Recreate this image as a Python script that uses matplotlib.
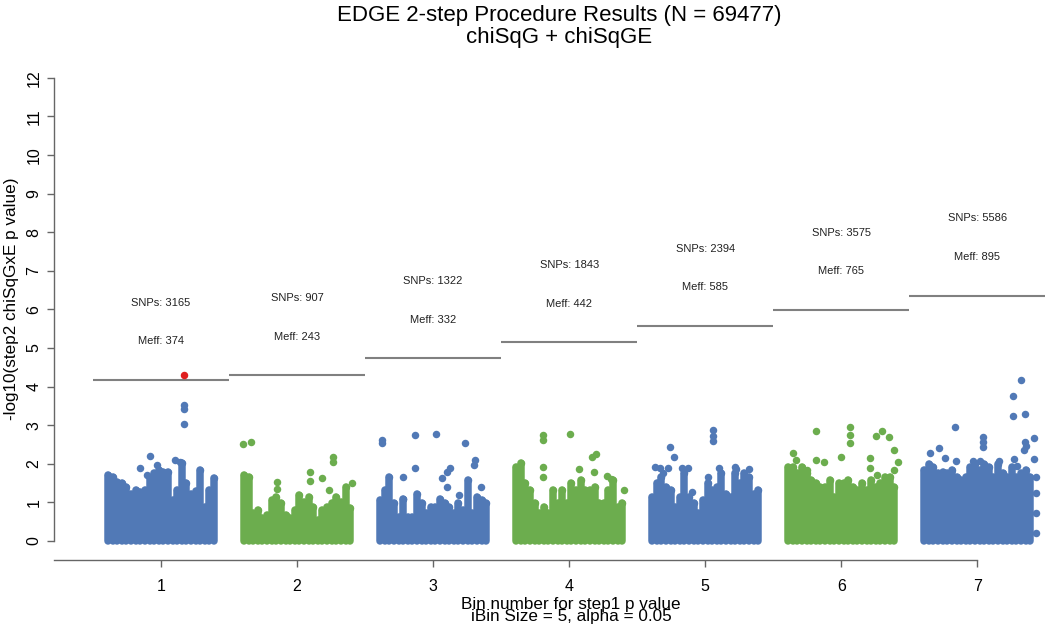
import numpy as np
import matplotlib
matplotlib.use("Agg")
import matplotlib.pyplot as plt

plt.rcParams['font.family'] = ['Liberation Sans', 'DejaVu Sans']

# ---------------- data ----------------
bins = [1, 2, 3, 4, 5, 6, 7]
snps = [3165, 907, 1322, 1843, 2394, 3575, 5586]
meff = [374, 243, 332, 442, 585, 765, 895]
thresholds = [4.18, 4.29, 4.73, 5.15, 5.57, 5.99, 6.36]
bin_colors = ["blue", "green", "blue", "green", "blue", "green", "blue"]

# envelope (top of the dense point cloud) across each bin, left to right
top1 = [1.71, 1.67, 1.54, 1.50, 1.41, 1.23, 1.32, 1.28, 1.32, 1.62, 1.75, 1.84,
        1.80, 1.80, 1.06, 1.32, 2.01, 1.49, 1.23, 1.30, 1.84, 0.89, 1.32, 1.62]
top2 = [1.71, 1.67, 0.72, 0.80, 0.59, 0.67, 1.06, 1.15, 0.98, 0.67, 0.59, 0.80,
        1.19, 1.02, 1.15, 0.89, 0.55, 0.80, 0.89, 0.98, 1.15, 1.02, 1.41, 0.85]
top3 = [1.06, 1.32, 1.67, 0.98, 0.63, 1.10, 0.63, 0.63, 1.23, 0.98, 0.72, 0.89,
        0.89, 1.10, 0.98, 0.89, 0.72, 0.98, 0.80, 1.58, 0.72, 1.15, 1.06, 0.98]
top4 = [1.93, 2.02, 1.49, 1.32, 0.98, 0.72, 0.89, 0.72, 1.32, 0.98, 1.32, 0.98,
        1.49, 1.32, 1.58, 1.32, 1.32, 1.41, 0.98, 0.98, 1.32, 1.58, 0.89, 0.98]
top5 = [1.15, 1.49, 1.67, 1.41, 1.32, 0.89, 1.15, 1.75, 1.15, 0.98, 0.72, 1.06,
        1.49, 1.32, 1.41, 1.75, 1.23, 1.15, 1.75, 1.49, 1.75, 1.67, 1.23, 1.32]
top6 = [1.93, 1.93, 1.75, 1.93, 1.75, 1.58, 1.49, 1.41, 1.41, 1.58, 1.15, 1.49,
        1.49, 1.58, 1.41, 1.32, 1.49, 1.32, 1.58, 1.41, 1.49, 1.67, 1.67, 1.41]
top7 = [1.84, 2.00, 1.93, 1.75, 1.80, 1.75, 1.84, 1.67, 1.58, 1.67, 1.93, 2.00,
        1.84, 2.00, 1.93, 1.67, 2.00, 1.75, 1.67, 1.93, 1.67, 1.75, 1.84, 1.67]
tops = [top1, top2, top3, top4, top5, top6, top7]

# individual points standing out above the cloud: (offset within bin, -log10 p)
out1_off = [-0.154, -0.105, -0.081, -0.032, -0.007, 0.103, 0.140, 0.170, 0.170, 0.170]
out1_val = [1.88, 1.71, 2.19, 1.97, 1.80, 2.10, 2.05, 3.53, 3.42, 3.02]
out2_off = [-0.400, -0.340, 0.265, 0.265, 0.096, 0.096, 0.180, 0.235, 0.400, -0.150, -0.150]
out2_val = [2.51, 2.56, 2.18, 2.05, 1.79, 1.56, 1.63, 1.32, 1.50, 1.53, 1.35]
out3_off = [-0.377, -0.377, -0.132, 0.022, 0.235, 0.309, 0.297, 0.125, 0.100, -0.130,
            -0.220, 0.064, -0.220, 0.103, 0.190, 0.350]
out3_val = [2.62, 2.53, 2.75, 2.77, 2.53, 2.10, 1.97, 1.88, 1.80, 1.88,
            1.67, 1.62, 1.10, 1.41, 1.19, 1.41]
out4_off = [-0.194, -0.194, 0.003, 0.200, 0.170, -0.190, -0.190, 0.070, 0.180, 0.280, 0.310, 0.400]
out4_val = [2.75, 2.62, 2.77, 2.25, 2.18, 1.93, 1.67, 1.86, 1.80, 1.68, 1.60, 1.32]
out5_off = [0.057, 0.057, 0.057, -0.262, -0.226, -0.370, -0.330, -0.270, -0.310, -0.170,
            -0.130, 0.020, 0.100, 0.220, 0.230, 0.320, -0.100]
out5_val = [2.88, 2.72, 2.59, 2.44, 2.17, 1.93, 1.88, 1.88, 1.75, 1.88,
            1.88, 1.65, 1.88, 1.93, 1.86, 1.86, 1.28]
out6_off = [-0.184, 0.061, 0.061, 0.061, 0.257, 0.300, 0.350, 0.385, -0.355, -0.330,
            -0.186, -0.125, 0.000, 0.210, 0.210, 0.420, -0.250, 0.260, 0.390]
out6_val = [2.86, 2.96, 2.75, 2.55, 2.72, 2.85, 2.70, 2.36, 2.28, 2.10,
            2.10, 2.04, 2.17, 2.14, 1.88, 2.04, 1.84, 1.71, 1.84]
out7_off = [0.324, 0.260, 0.260, 0.350, -0.160, 0.040, 0.040, 0.040, 0.414, 0.350,
            0.355, 0.340, 0.420, -0.350, -0.280, -0.240, -0.155, -0.030, 0.020, 0.160,
            0.270, 0.290, 0.430, 0.430, 0.430, 0.430]
out7_val = [4.16, 3.75, 3.24, 3.30, 2.96, 2.69, 2.57, 2.44, 2.68, 2.57,
            2.46, 2.37, 2.12, 2.29, 2.40, 2.16, 2.08, 2.07, 2.07, 2.07,
            2.12, 1.95, 1.67, 1.24, 0.72, 0.20]
out_offs = [out1_off, out2_off, out3_off, out4_off, out5_off, out6_off, out7_off]
out_vals = [out1_val, out2_val, out3_val, out4_val, out5_val, out6_val, out7_val]

# significant hit (above bin-1 threshold)
sig_bin = [1]
sig_off = [0.170]
sig_val = [4.30]

title_lines = ["EDGE 2-step Procedure Results (N = 69477)", "chiSqG + chiSqGE"]
xlabel_lines = ["Bin number for step1 p value", "iBin Size = 5, alpha = 0.05"]
ylabel = "-log10(step2 chiSqGxE p value)"

# ---------------- style ----------------
palette = {"blue": "#5179B6", "green": "#6CAD4E"}
red = "#E01F1F"
W, H = 1050, 627
fig = plt.figure(figsize=(W / 100, H / 100), dpi=100)
ax = fig.add_axes([54 / W, (H - 560) / H, (1048 - 54) / W, (560 - 59) / H])
ax.set_xlim(0.213, 7.52)
ax.set_ylim(-0.4925, 12.49)

dot_pt = 5.4  # marker diameter in points
for b, top, offs, vals, cname in zip(bins, tops, out_offs, out_vals, bin_colors):
    c = palette[cname]
    xs = b + np.linspace(-0.39, 0.39, len(top))
    ax.vlines(xs, 0, top, colors=c, linewidth=dot_pt, capstyle='round', zorder=2)
    ax.scatter(xs, top, s=dot_pt ** 2, color=c, linewidths=0, zorder=2)
    ax.scatter(b + np.asarray(offs), vals, s=dot_pt ** 2, color=c, linewidths=0, zorder=3)

ax.scatter(np.asarray(sig_bin) + np.asarray(sig_off), sig_val, s=dot_pt ** 2, color=red,
           linewidths=0, zorder=4)

for b, t, n, m in zip(bins, thresholds, snps, meff):
    ax.hlines(t, b - 0.5, b + 0.5, colors="#808080", linewidth=1.5, zorder=1)
    ax.text(b, t + 2, f"SNPs: {n}", ha="center", va="center", fontsize=8, color="#222222")
    ax.text(b, t + 1, f"Meff: {m}", ha="center", va="center", fontsize=8, color="#222222")

for s in ["top", "right"]:
    ax.spines[s].set_visible(False)
ax.spines["left"].set_bounds(0, 12)
ax.spines["bottom"].set_bounds(0.213, 7)
for s in ["left", "bottom"]:
    ax.spines[s].set_color("#666666")
    ax.spines[s].set_linewidth(1.0)

ax.set_yticks(range(0, 13))
ax.set_xticks(bins)
ax.tick_params(axis="both", colors="#666666", length=5, width=1.0, labelcolor="black",
               labelsize=11.5)
ax.tick_params(axis="y", pad=4)
ax.tick_params(axis="x", pad=9)
for lab in ax.get_yticklabels():
    lab.set_rotation(90)
    lab.set_va("center")

fig.text(559 / W, 1 - 15 / H, title_lines[0], ha="center", va="center", fontsize=16)
fig.text(559 / W, 1 - 38 / H, title_lines[1], ha="center", va="center", fontsize=16)
fig.text(571 / W, 1 - 604 / H, xlabel_lines[0], ha="center", va="center", fontsize=12.3)
fig.text(571 / W, 1 - 617 / H, xlabel_lines[1], ha="center", va="center", fontsize=12.3)
fig.text(12 / W, 1 - 299 / H, ylabel, ha="center", va="center", rotation=90, fontsize=12.3)

fig.savefig("out.png", dpi=100)
